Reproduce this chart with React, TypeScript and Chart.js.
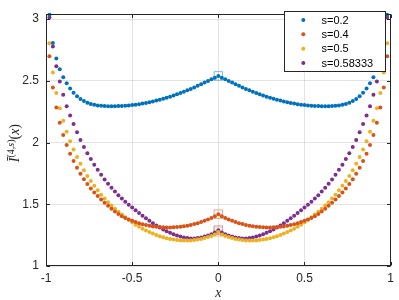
import { useEffect, useRef } from "react";
import { Chart, registerables } from "chart.js";

Chart.register(...registerables);

// ---------- data ----------
const xValues = [
  -0.98, -0.96, -0.94, -0.92, -0.9, -0.88, -0.86, -0.84, -0.82, -0.8,
  -0.78, -0.76, -0.74, -0.72, -0.7, -0.68, -0.66, -0.64, -0.62, -0.6,
  -0.58, -0.56, -0.54, -0.52, -0.5, -0.48, -0.46, -0.44, -0.42, -0.4,
  -0.38, -0.36, -0.34, -0.32, -0.3, -0.28, -0.26, -0.24, -0.22, -0.2,
  -0.18, -0.16, -0.14, -0.12, -0.1, -0.08, -0.06, -0.04, -0.02, 0,
  0.02, 0.04, 0.06, 0.08, 0.1, 0.12, 0.14, 0.16, 0.18, 0.2,
  0.22, 0.24, 0.26, 0.28, 0.3, 0.32, 0.34, 0.36, 0.38, 0.4,
  0.42, 0.44, 0.46, 0.48, 0.5, 0.52, 0.54, 0.56, 0.58, 0.6,
  0.62, 0.64, 0.66, 0.68, 0.7, 0.72, 0.74, 0.76, 0.78, 0.8,
  0.82, 0.84, 0.86, 0.88, 0.9, 0.92, 0.94, 0.96, 0.98,
];

const seriesS02 = [
  3.036, 2.807, 2.681, 2.593, 2.529, 2.48, 2.438, 2.404, 2.376, 2.353,
  2.336, 2.323, 2.313, 2.306, 2.301, 2.298, 2.296, 2.295, 2.295, 2.295,
  2.296, 2.297, 2.299, 2.301, 2.304, 2.307, 2.311, 2.316, 2.321, 2.327,
  2.333, 2.34, 2.347, 2.355, 2.363, 2.372, 2.381, 2.391, 2.401, 2.412,
  2.423, 2.435, 2.447, 2.46, 2.473, 2.486, 2.499, 2.512, 2.525, 2.54,
  2.525, 2.512, 2.499, 2.486, 2.473, 2.46, 2.447, 2.435, 2.423, 2.412,
  2.401, 2.391, 2.381, 2.372, 2.363, 2.355, 2.347, 2.34, 2.333, 2.327,
  2.321, 2.316, 2.311, 2.307, 2.304, 2.301, 2.299, 2.297, 2.296, 2.295,
  2.295, 2.295, 2.296, 2.298, 2.301, 2.306, 2.313, 2.323, 2.336, 2.353,
  2.376, 2.404, 2.438, 2.48, 2.529, 2.593, 2.681, 2.807, 3.036,
];

const seriesS04 = [
  2.7, 2.446, 2.284, 2.16, 2.062, 1.98, 1.91, 1.851, 1.796, 1.748,
  1.703, 1.664, 1.627, 1.595, 1.567, 1.539, 1.512, 1.488, 1.463, 1.441,
  1.422, 1.404, 1.389, 1.377, 1.366, 1.356, 1.347, 1.339, 1.332, 1.326,
  1.321, 1.318, 1.315, 1.313, 1.312, 1.312, 1.313, 1.315, 1.318, 1.322,
  1.327, 1.333, 1.34, 1.347, 1.356, 1.366, 1.377, 1.389, 1.403, 1.42,
  1.403, 1.389, 1.377, 1.366, 1.356, 1.347, 1.34, 1.333, 1.327, 1.322,
  1.318, 1.315, 1.313, 1.312, 1.312, 1.313, 1.315, 1.318, 1.321, 1.326,
  1.332, 1.339, 1.347, 1.356, 1.366, 1.377, 1.389, 1.404, 1.422, 1.441,
  1.463, 1.488, 1.512, 1.539, 1.567, 1.595, 1.627, 1.664, 1.703, 1.748,
  1.796, 1.851, 1.91, 1.98, 2.062, 2.16, 2.284, 2.446, 2.7,
];

const seriesS05 = [
  2.804, 2.568, 2.402, 2.278, 2.176, 2.088, 2.011, 1.944, 1.884, 1.828,
  1.776, 1.729, 1.688, 1.65, 1.613, 1.578, 1.547, 1.516, 1.49, 1.464,
  1.44, 1.417, 1.395, 1.374, 1.354, 1.335, 1.318, 1.302, 1.288, 1.275,
  1.263, 1.252, 1.242, 1.233, 1.225, 1.219, 1.214, 1.21, 1.207, 1.206,
  1.206, 1.207, 1.21, 1.214, 1.219, 1.226, 1.234, 1.243, 1.255, 1.275,
  1.255, 1.243, 1.234, 1.226, 1.219, 1.214, 1.21, 1.207, 1.206, 1.206,
  1.207, 1.21, 1.214, 1.219, 1.225, 1.233, 1.242, 1.252, 1.263, 1.275,
  1.288, 1.302, 1.318, 1.335, 1.354, 1.374, 1.395, 1.417, 1.44, 1.464,
  1.49, 1.516, 1.547, 1.578, 1.613, 1.65, 1.688, 1.729, 1.776, 1.828,
  1.884, 1.944, 2.011, 2.088, 2.176, 2.278, 2.402, 2.568, 2.804,
];

const seriesS058 = [
  3.013, 2.779, 2.619, 2.495, 2.387, 2.294, 2.22, 2.15, 2.083, 2.021,
  1.964, 1.913, 1.866, 1.82, 1.779, 1.74, 1.701, 1.667, 1.634, 1.603,
  1.574, 1.547, 1.521, 1.497, 1.474, 1.452, 1.43, 1.408, 1.387, 1.366,
  1.347, 1.329, 1.312, 1.296, 1.282, 1.269, 1.257, 1.247, 1.238, 1.231,
  1.226, 1.223, 1.223, 1.226, 1.231, 1.238, 1.247, 1.258, 1.272, 1.29,
  1.272, 1.258, 1.247, 1.238, 1.231, 1.226, 1.223, 1.223, 1.226, 1.231,
  1.238, 1.247, 1.257, 1.269, 1.282, 1.296, 1.312, 1.329, 1.347, 1.366,
  1.387, 1.408, 1.43, 1.452, 1.474, 1.497, 1.521, 1.547, 1.574, 1.603,
  1.634, 1.667, 1.701, 1.74, 1.779, 1.82, 1.866, 1.913, 1.964, 2.021,
  2.083, 2.15, 2.22, 2.294, 2.387, 2.495, 2.619, 2.779, 3.013,
];

const seriesLabels = ["s=0.2", "s=0.4", "s=0.5", "s=0.58333"];
const seriesColors = ["#0072BD", "#D95319", "#EDB120", "#7E2F8E"];
const squareColors = [
  "rgba(0,114,189,0.5)",
  "rgba(217,83,25,0.5)",
  "rgba(237,177,32,0.5)",
  "rgba(126,47,142,0.5)",
];
const centerX = [0];
const centerValues = [2.54, 1.42, 1.275, 1.29];

const xTicks = [-1, -0.5, 0, 0.5, 1];
const xTickLabels = ["-1", "-0.5", "0", "0.5", "1"];
const yTicks = [1, 1.5, 2, 2.5, 3];
const yTickLabels = ["1", "1.5", "2", "2.5", "3"];

const allSeries = [seriesS02, seriesS04, seriesS05, seriesS058];

const AXIS_COLOR = "#262626";
const SANS = '"Liberation Sans", Arial, sans-serif';
const SERIF = '"Liberation Serif", "Times New Roman", serif';
const DOT_R = 2;

const framePlugin = {
  id: "matlabFrame",
  afterDraw(chart: any) {
    const { ctx, chartArea: a, scales } = chart;
    ctx.save();
    // axes box
    ctx.strokeStyle = AXIS_COLOR;
    ctx.lineWidth = 1;
    const L = Math.round(a.left) + 0.5;
    const R = Math.round(a.right) - 0.5;
    const T = Math.round(a.top) + 0.5;
    const B = Math.round(a.bottom) - 0.5;
    ctx.strokeRect(L, T, R - L, B - T);
    // inward ticks on all four sides
    const tl = 3.5;
    ctx.beginPath();
    scales.x.ticks.forEach((t: any) => {
      const px = Math.round(scales.x.getPixelForValue(t.value)) + 0.5;
      ctx.moveTo(px, B);
      ctx.lineTo(px, B - tl);
      ctx.moveTo(px, T);
      ctx.lineTo(px, T + tl);
    });
    scales.y.ticks.forEach((t: any) => {
      const py = Math.round(scales.y.getPixelForValue(t.value)) + 0.5;
      ctx.moveTo(L, py);
      ctx.lineTo(L + tl, py);
      ctx.moveTo(R, py);
      ctx.lineTo(R - tl, py);
    });
    ctx.stroke();

    // legend (top-right, inside axes)
    const lx = 284.5;
    const ly = 11.5;
    const lw = 101;
    const lh = 60;
    ctx.fillStyle = "#ffffff";
    ctx.fillRect(lx, ly, lw, lh);
    ctx.strokeStyle = AXIS_COLOR;
    ctx.strokeRect(lx, ly, lw, lh);
    const dsList = chart.data.datasets.filter((d: any) => !d.isCenter);
    ctx.font = `11px ${SANS}`;
    ctx.textBaseline = "middle";
    ctx.textAlign = "left";
    dsList.forEach((d: any, i: number) => {
      const y = 20 + i * 14.35;
      ctx.fillStyle = d.backgroundColor;
      ctx.beginPath();
      ctx.arc(303.3, y, DOT_R, 0, Math.PI * 2);
      ctx.fill();
      ctx.fillStyle = "#000000";
      ctx.fillText(d.label, 321.5, y + 0.5);
    });

    // x-axis title
    ctx.fillStyle = AXIS_COLOR;
    ctx.font = `italic 14px ${SERIF}`;
    ctx.textAlign = "center";
    ctx.textBaseline = "alphabetic";
    ctx.fillText("x", (a.left + a.right) / 2, 297);

    // y-axis title:  Ī^{(4,s)}(x)
    const parts = [
      { t: "I", f: `italic 14px ${SERIF}`, dy: 0, bar: true },
      { t: "(4,", f: `10px ${SERIF}`, dy: -5.5, bar: false },
      { t: "s", f: `italic 10px ${SERIF}`, dy: -5.5, bar: false },
      { t: ")", f: `10px ${SERIF}`, dy: -5.5, bar: false },
      { t: "(", f: `14px ${SERIF}`, dy: 0, bar: false },
      { t: "x", f: `italic 14px ${SERIF}`, dy: 0, bar: false },
      { t: ")", f: `14px ${SERIF}`, dy: 0, bar: false },
    ];
    ctx.translate(19, (a.top + a.bottom) / 2 + 3);
    ctx.rotate(-Math.PI / 2);
    ctx.textAlign = "left";
    let total = 0;
    const widths = parts.map((p) => {
      ctx.font = p.f;
      const w = ctx.measureText(p.t).width;
      total += w;
      return w;
    });
    let cx = -total / 2;
    parts.forEach((p, i) => {
      ctx.font = p.f;
      ctx.fillText(p.t, cx, p.dy);
      if (p.bar) {
        ctx.strokeStyle = AXIS_COLOR;
        ctx.lineWidth = 0.9;
        ctx.beginPath();
        ctx.moveTo(cx + 1.5, -11.5);
        ctx.lineTo(cx + widths[i] + 1, -11.5);
        ctx.stroke();
      }
      cx += widths[i];
    });
    ctx.restore();
  },
};

export default function App() {
  const canvasRef = useRef<HTMLCanvasElement | null>(null);

  useEffect(() => {
    const canvas = canvasRef.current;
    if (!canvas) return;

    const dotSets = allSeries.map((vals, si) => ({
      label: seriesLabels[si],
      data: xValues.map((x, i) => ({ x, y: vals[i] })),
      backgroundColor: seriesColors[si],
      borderColor: seriesColors[si],
      pointRadius: DOT_R,
      pointBorderWidth: 0,
      pointHoverRadius: DOT_R,
      showLine: false,
      clip: false as any,
      isCenter: false,
    }));
    const centerSets = centerValues.map((v, si) => ({
      label: seriesLabels[si] + " (x=0)",
      data: centerX.map((x) => ({ x, y: v })),
      backgroundColor: "rgba(0,0,0,0)",
      borderColor: squareColors[si],
      pointStyle: "rect",
      pointRadius: 6,
      pointBorderWidth: 1,
      pointHoverRadius: 6,
      showLine: false,
      isCenter: true,
    }));

    const chart = new Chart(canvas, {
      type: "scatter",
      data: { datasets: [...dotSets, ...centerSets] as any },
      options: {
        responsive: false,
        animation: false,
        devicePixelRatio: 1,
        events: [],
        layout: { padding: { top: 2, right: 4, left: 0, bottom: 0 } },
        plugins: {
          legend: { display: false },
          tooltip: { enabled: false },
          title: { display: false },
        },
        scales: {
          x: {
            type: "linear",
            min: -1,
            max: 1,
            afterBuildTicks: (s: any) => {
              s.ticks = xTicks.map((v) => ({ value: v }));
            },
            afterFit: (s: any) => {
              s.height = 34;
            },
            ticks: {
              autoSkip: false,
              maxRotation: 0,
              padding: 5,
              color: AXIS_COLOR,
              font: { family: SANS, size: 12 },
              callback: (v: any) => {
                const i = xTicks.indexOf(Number(v));
                return i >= 0 ? xTickLabels[i] : "";
              },
            },
            grid: { color: "rgba(38,38,38,0.13)", drawTicks: false, lineWidth: 1 },
            border: { display: false },
          },
          y: {
            type: "linear",
            min: 1,
            max: 3.04,
            afterBuildTicks: (s: any) => {
              s.ticks = yTicks.map((v) => ({ value: v }));
            },
            afterFit: (s: any) => {
              s.width = 46;
            },
            ticks: {
              autoSkip: false,
              padding: 7,
              color: AXIS_COLOR,
              font: { family: SANS, size: 12 },
              callback: (v: any) => {
                const i = yTicks.indexOf(Number(v));
                return i >= 0 ? yTickLabels[i] : "";
              },
            },
            grid: { color: "rgba(38,38,38,0.13)", drawTicks: false, lineWidth: 1 },
            border: { display: false },
          },
        },
      },
      plugins: [framePlugin],
    });

    return () => {
      chart.destroy();
    };
  }, []);

  return (
    <div
      style={{
        position: "fixed",
        left: 0,
        top: 0,
        width: 399,
        height: 300,
        background: "#ffffff",
      }}
    >
      <canvas ref={canvasRef} width={399} height={300} style={{ display: "block" }} />
    </div>
  );
}
